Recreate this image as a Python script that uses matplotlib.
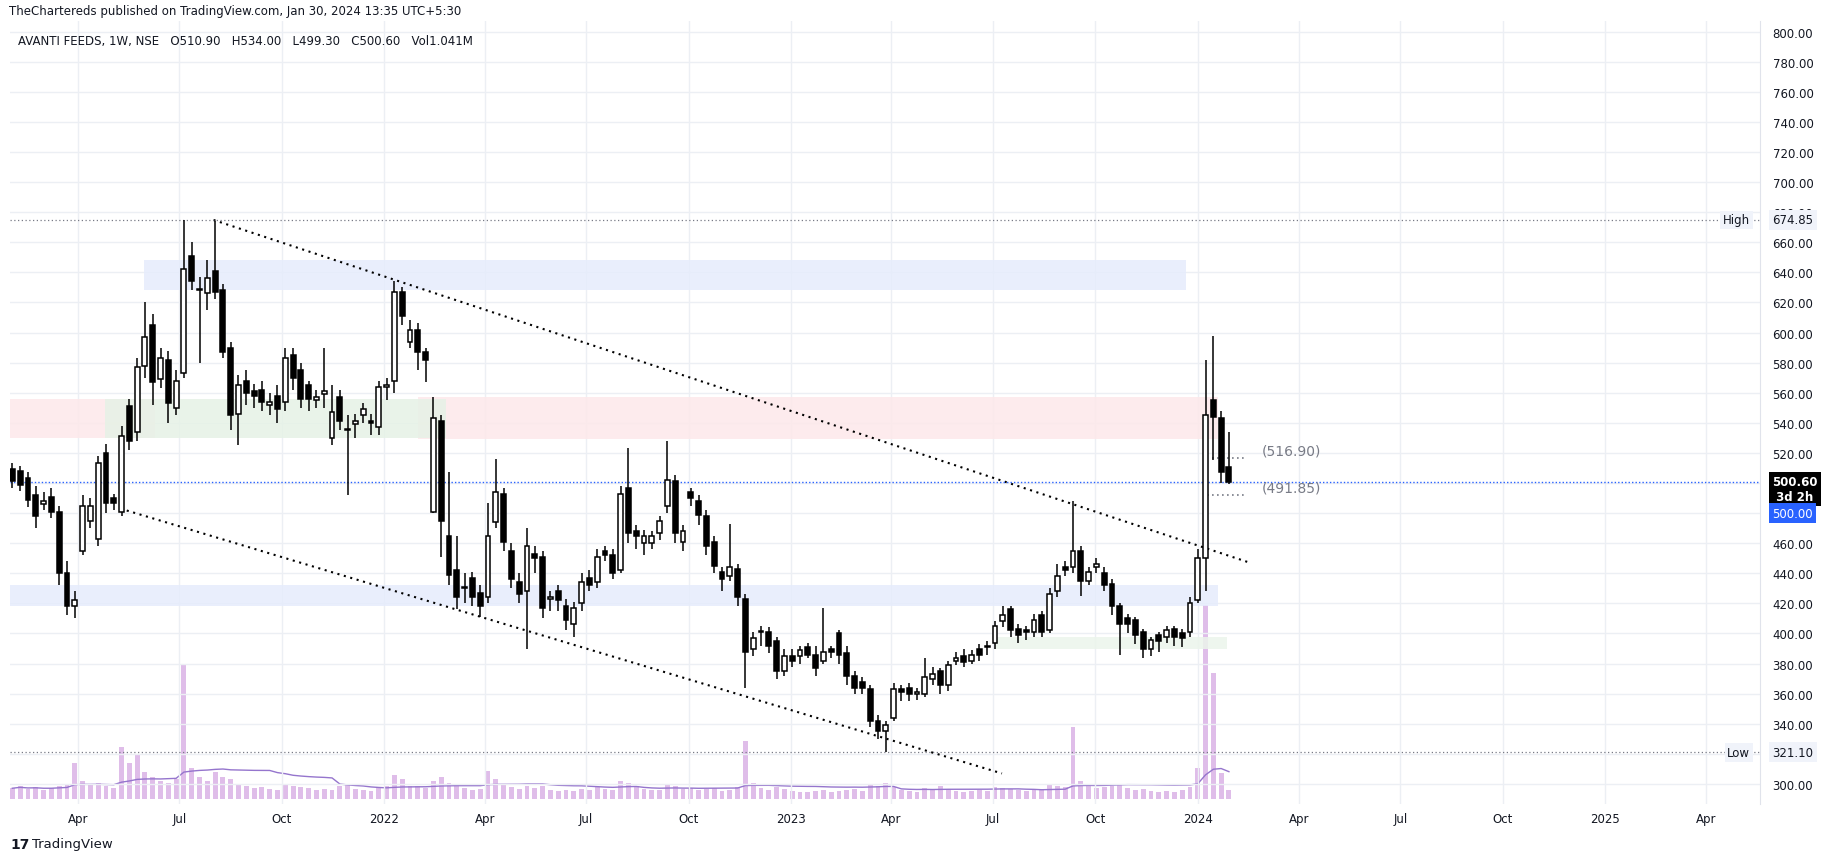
import matplotlib

matplotlib.use("Agg")
import matplotlib.pyplot as plt
import numpy as np
import pandas as pd

W, H = 1827, 862

# weekly OHLC, first candle week of 2021-02-01
opens = [
    509, 508, 503, 492, 486, 491, 481, 440, 418, 455,
    475, 463, 520, 490, 481, 551, 534, 578, 605, 569,
    582, 550, 573, 651, 628, 626, 641, 628, 590, 546,
    568, 561, 562, 552, 558, 554, 585, 575, 565, 555,
    559, 530, 557, 535, 539, 545, 541, 537, 564, 568,
    627, 594, 602, 587, 481, 541, 465, 442, 430, 437,
    427, 424, 474, 493, 455, 434, 428, 453, 451, 423,
    428, 418, 406, 420, 437, 434, 455, 452, 442, 497,
    468, 460, 460, 467, 485, 501, 461, 494, 488, 478,
    461, 441, 438, 443, 423, 390, 401, 401, 395, 375,
    385, 385, 391, 386, 382, 390, 400, 387, 372, 368,
    363, 342, 335, 344, 363, 364, 360, 360, 370, 375,
    366, 382, 385, 382, 390, 392, 394, 408, 416, 403,
    402, 401, 412, 402, 428, 444, 444, 455, 435, 444,
    440, 433, 418, 410, 409, 401, 390, 399, 398, 403,
    400, 401, 422, 450, 555, 543, 510.9,
]
closes = [
    501, 499, 489, 478, 488, 481, 440, 418, 422, 485,
    485, 513, 487, 487, 531, 528, 577, 597, 567, 583,
    553, 568, 642, 634, 628, 636, 627, 587, 545, 565,
    560, 558, 554, 554, 549, 583, 570, 556, 556, 557,
    561, 547, 541, 535, 541, 549, 540, 564, 564, 627,
    611, 602, 587, 582, 543, 475, 439, 424, 430, 424,
    418, 465, 494, 461, 436, 426, 458, 450, 417, 424,
    422, 409, 417, 434, 432, 451, 452, 440, 493, 467,
    465, 465, 465, 475, 502, 467, 468, 490, 479, 458,
    445, 436, 444, 424, 388, 397, 401, 392, 375, 385,
    382, 389, 386, 377, 388, 388, 386, 372, 364, 364,
    342, 335, 339, 363, 361, 360, 361, 371, 373, 366,
    379, 384, 381, 386, 386, 391, 405, 412, 402, 399,
    401, 409, 401, 426, 438, 442, 455, 435, 441, 446,
    432, 418, 406, 406, 399, 390, 396, 395, 402, 398,
    397, 420, 450, 545, 544, 507, 500.6,
]
highs = [
    513, 511, 507, 498, 494, 497, 485, 448, 428, 492,
    490, 518, 526, 493, 538, 556, 583, 620, 612, 590,
    588, 575, 675, 660, 637, 648, 674, 632, 594, 572,
    575, 566, 568, 560, 565, 590, 590, 580, 568, 562,
    590, 565, 562, 545, 546, 553, 546, 568, 570, 634,
    630, 608, 606, 590, 557, 545, 507, 465, 440, 441,
    432, 487, 516, 497, 460, 440, 470, 458, 455, 428,
    432, 423, 421, 440, 442, 456, 458, 456, 498, 523,
    472, 469, 468, 478, 528, 505, 472, 497, 492, 482,
    465, 444, 473, 446, 426, 401, 405, 404, 398, 390,
    390, 392, 394, 392, 417, 392, 402, 392, 375, 371,
    366, 346, 342, 367, 366, 367, 364, 384, 378, 377,
    382, 388, 390, 389, 393, 395, 408, 418, 418, 406,
    405, 413, 415, 430, 446, 448, 488, 458, 444, 450,
    444, 436, 420, 413, 411, 403, 398, 401, 405, 405,
    403, 424, 456, 582, 598, 548, 534,
]
lows = [
    497, 495, 484, 470, 482, 477, 432, 412, 410, 452,
    470, 458, 480, 482, 478, 522, 528, 570, 552, 563,
    540, 545, 570, 628, 580, 615, 622, 583, 535, 525,
    552, 550, 548, 545, 540, 548, 562, 550, 548, 550,
    550, 525, 535, 492, 530, 540, 532, 532, 555, 560,
    605, 590, 575, 567, 480, 451, 432, 416, 420, 418,
    411, 420, 470, 455, 430, 420, 390, 440, 410, 415,
    415, 402, 398, 415, 428, 430, 448, 436, 440, 460,
    456, 452, 456, 462, 480, 460, 455, 485, 472, 452,
    440, 428, 435, 418, 364, 385, 392, 387, 370, 372,
    378, 380, 384, 372, 380, 384, 380, 366, 360, 360,
    338, 330, 321, 342, 355, 355, 356, 358, 366, 360,
    362, 379, 378, 380, 382, 386, 390, 404, 398, 394,
    396, 398, 398, 400, 424, 438, 440, 425, 432, 440,
    428, 412, 386, 400, 393, 384, 385, 388, 394, 392,
    391, 398, 420, 428, 515, 500, 499.3,
]
volumes = [  # millions
    1.2, 1.4, 1.1, 1.3, 1.0, 1.2, 1.5, 1.6, 4.0, 2.0,
    1.6, 1.8, 1.4, 1.2, 5.8, 4.0, 5.0, 3.0, 2.5, 2.0,
    1.8, 2.2, 15.0, 3.5, 2.5, 2.0, 3.0, 2.4, 2.2, 1.6,
    1.4, 1.2, 1.3, 1.1, 1.0, 1.6, 1.5, 1.3, 1.2, 1.0,
    1.1, 1.0, 1.4, 1.6, 1.1, 1.0, 0.9, 1.2, 1.4, 2.7,
    2.2, 1.5, 1.4, 1.2, 2.0, 2.4, 1.8, 1.6, 1.2, 1.0,
    1.1, 3.1, 2.2, 1.6, 1.3, 1.1, 1.5, 1.2, 1.4, 1.0,
    0.9, 1.0, 0.9, 1.1, 1.0, 1.3, 1.1, 1.0, 2.0, 1.8,
    1.4, 1.1, 1.0, 1.0, 1.6, 1.4, 1.1, 1.2, 1.0, 1.1,
    1.2, 0.9, 1.0, 1.3, 6.4, 1.8, 1.2, 1.0, 1.3, 1.1,
    0.9, 0.8, 0.8, 0.9, 1.0, 0.8, 0.9, 1.0, 1.1, 0.9,
    1.6, 1.4, 1.8, 1.3, 1.0, 0.9, 0.8, 1.2, 1.0, 1.4,
    1.1, 0.9, 0.8, 0.9, 1.0, 0.9, 1.3, 1.2, 1.1, 1.0,
    0.9, 1.0, 1.0, 1.6, 1.5, 1.3, 8.0, 2.0, 1.4, 1.2,
    1.3, 1.5, 1.6, 1.2, 1.0, 1.1, 0.9, 0.8, 0.9, 0.8,
    1.0, 1.3, 3.4, 21.5, 14.0, 2.9, 1.04,
]

start = pd.Timestamp("2021-02-01")
tick_dates = ["2021-04-01", "2021-07-01", "2021-10-01", "2022-01-01", "2022-04-01",
              "2022-07-01", "2022-10-01", "2023-01-01", "2023-04-01", "2023-07-01",
              "2023-10-01", "2024-01-01", "2024-04-01", "2024-07-01", "2024-10-01",
              "2025-01-01", "2025-04-01"]
tick_labels = ["Apr", "Jul", "Oct", "2022", "Apr", "Jul", "Oct", "2023", "Apr", "Jul",
               "Oct", "2024", "Apr", "Jul", "Oct", "2025", "Apr"]
price_ticks = list(range(300, 801, 20))
hidden_ticks = [500]  # covered by the last-price box

# zones: (x0 week, x1 week, low, high, colour)
zones = [
    (16.9, 150.5, 628, 648, "#e6ecfc"),
    (-0.3, 18.3, 530, 556, "#fde8ea"),
    (52.0, 154.6, 529, 557, "#fde8ea"),
    (11.9, 55.6, 530, 556, "#e6f2e6"),
    (-0.3, 154.6, 418, 432, "#e6ecfc"),
    (126.0, 155.7, 390, 398, "#ebf5eb"),
]
upper_trend = ([25.8, 158.7], [674.8, 447])
lower_trend = ([13.85, 126.9], [483, 307])
high_val, low_val, last_val = 674.85, 321.10, 500.60

TXT = "#131722"
GRAY = "#787b86"


def fx(px):
    return px / W


def fy(py):
    return 1 - py / H


fig = plt.figure(figsize=(W / 100, H / 100), dpi=100)
fig.patch.set_facecolor("white")
ax = fig.add_axes([fx(10), fy(805), fx(1750), (805 - 22) / H])

# volume on a twin axis (created first so it doesn't move the price ticks)
vax = ax.twinx()
vax.set_ylim(-0.55, 86.4)
vax.set_axis_off()
ax.set_zorder(vax.get_zorder() + 1)
ax.patch.set_visible(False)

ax.set_xlim(-0.3, 224.1)
ax.set_ylim(286.7, 807)
vax.set_xlim(-0.3, 224.1)

x = np.arange(len(closes))
o = np.array(opens)
c = np.array(closes)

# grid
tick_pos = [(pd.Timestamp(d) - start).days / 7 for d in tick_dates]
ax.set_xticks(tick_pos)
ax.set_xticklabels(tick_labels, fontsize=8.5, color=TXT)
ax.yaxis.tick_right()
ax.set_yticks(price_ticks)
ax.set_yticklabels(["" if v in hidden_ticks else f"{v:.2f}" for v in price_ticks],
                   fontsize=8.5, color=TXT)
ax.tick_params(length=0, pad=9)
ax.tick_params(axis="x", pad=6)
ax.grid(True, color="#eceff4", lw=1)
ax.set_axisbelow(True)
for s in ["top", "left", "bottom"]:
    ax.spines[s].set_visible(False)
ax.spines["right"].set_color("#e0e3eb")

vol = pd.Series(volumes)
vax.bar(x, vol, width=0.62, color="#dfbde9", zorder=1)
vax.plot(x, vol.rolling(20, min_periods=1).mean(), color="#9575cd", lw=1)

for x0, x1, lo, hi, col in zones:
    ax.fill_between([x0, x1], lo, hi, color=col, lw=0, zorder=1, alpha=0.85)

# candles
ax.vlines(x, lows, highs, color="black", lw=1.1, zorder=3)
body = np.maximum(np.abs(c - o), 0.9)
up = c >= o
ax.bar(x[up], body[up], bottom=np.minimum(o, c)[up], width=0.62,
       color="white", edgecolor="black", lw=1.1, zorder=4)
ax.bar(x[~up], body[~up], bottom=np.minimum(o, c)[~up], width=0.62,
       color="black", edgecolor="black", lw=1.1, zorder=4)

# trendlines and levels
ax.plot(*upper_trend, color="black", ls=(0, (1, 2.2)), lw=1.5, zorder=2)
ax.plot(*lower_trend, color="black", ls=(0, (1, 2.2)), lw=1.5, zorder=2)
ax.axhline(high_val, color=GRAY, ls=(0, (1, 2)), lw=0.9, zorder=2)
ax.axhline(low_val, color=GRAY, ls=(0, (1, 2)), lw=0.9, zorder=2)
ax.axhline(last_val, color="#2962ff", ls=(0, (1, 1.5)), lw=1, zorder=2)
ax.plot([153.8, 158.1], [516.9, 516.9], color=GRAY, ls=(0, (1, 2)), lw=1.2)
ax.plot([153.2, 158.1], [491.85, 491.85], color=GRAY, ls=(0, (1, 2)), lw=1.2)
ax.text(160.2, 516.9 + 5, "(516.90)", color=GRAY, fontsize=10, va="center")
ax.text(160.2, 491.85 + 5, "(491.85)", color=GRAY, fontsize=10, va="center")

# price axis labels
yt = ax.get_yaxis_transform()
ax.text(0.9945, high_val, "High", transform=yt, fontsize=8.5, color=TXT, ha="right",
        va="center", bbox=dict(fc="#f0f3fa", ec="none", pad=2))
ax.text(1.007, high_val, f"{high_val:.2f}", transform=yt, fontsize=8.5, color=TXT,
        va="center", zorder=10, bbox=dict(fc="#f0f3fa", ec="none", pad=2.5), clip_on=False)
ax.text(0.9945, low_val, "Low", transform=yt, fontsize=8.5, color=TXT, ha="right",
        va="center", bbox=dict(fc="#f0f3fa", ec="none", pad=2))
ax.text(1.007, low_val, f"{low_val:.2f}", transform=yt, fontsize=8.5, color=TXT,
        va="center", zorder=10, bbox=dict(fc="#f0f3fa", ec="none", pad=2.5), clip_on=False)
fig.text(fx(1772), fy(490), "500.60\n 3d 2h", fontsize=8.5, color="white", fontweight="bold",
         va="center", linespacing=1.15, bbox=dict(fc="black", ec="none", pad=2.5))
fig.text(fx(1772), fy(514), "500.00", fontsize=8.5, color="white", va="center",
         bbox=dict(fc="#2962ff", ec="none", pad=2.5))

# header / footer
fig.text(fx(9), fy(11), "TheChartereds published on TradingView.com, Jan 30, 2024 13:35 UTC+5:30",
         fontsize=8.5, color=TXT, va="center")
fig.text(fx(18), fy(42), "AVANTI FEEDS, 1W, NSE   O510.90   H534.00   L499.30   C500.60   Vol1.041M",
         fontsize=8.5, color=TXT, va="center")
fig.text(fx(10), fy(845), "17", fontsize=10, color=TXT, fontweight="bold", va="center")
fig.text(fx(32), fy(845), "TradingView", fontsize=9.5, color=TXT, va="center")

fig.savefig("out.png", dpi=100)
